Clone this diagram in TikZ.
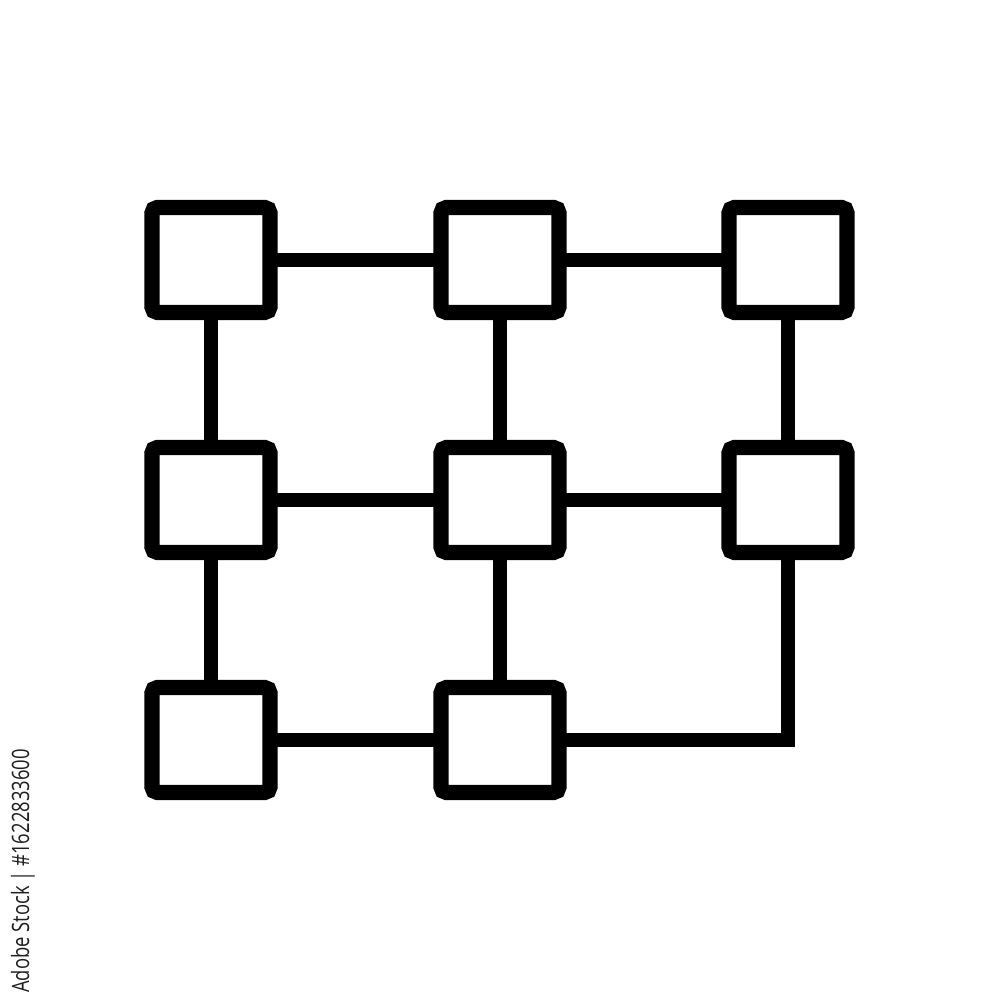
\documentclass[tikz,border=0pt]{standalone}
\usepackage{fontspec}
\usepackage{tikz,tkz-graph}
\newfontfamily\stampfont{Open Sans}
\tikzstyle{gridBox}=[shape = rectangle, minimum width = 1.18cm, minimum height = 1.05cm, inner sep = 0pt, line width = 4.3pt, rounded corners = 1.5pt, draw, fill = white]
\tikzstyle{gridLink}=[draw, line width = 3.9pt, black]

\begin{document}
\begin{tikzpicture}[scale = 10]
\useasboundingbox (0,0) rectangle (1,1);
\tikzstyle{VertexStyle} = []
\tikzstyle{EdgeStyle} = [gridLink]
\Vertex[style = gridBox, x = 0.211, y = 0.740, NoLabel]{b1}
\Vertex[style = gridBox, x = 0.500, y = 0.740, NoLabel]{b2}
\Vertex[style = gridBox, x = 0.788, y = 0.740, NoLabel]{b3}
\Vertex[style = gridBox, x = 0.211, y = 0.500, NoLabel]{b4}
\Vertex[style = gridBox, x = 0.500, y = 0.500, NoLabel]{b5}
\Vertex[style = gridBox, x = 0.788, y = 0.500, NoLabel]{b6}
\Vertex[style = gridBox, x = 0.211, y = 0.260, NoLabel]{b7}
\Vertex[style = gridBox, x = 0.500, y = 0.260, NoLabel]{b8}
\Edge(b1)(b2)
\Edge(b2)(b3)
\Edge(b1)(b4)
\Edge(b2)(b5)
\Edge(b3)(b6)
\Edge(b4)(b5)
\Edge(b5)(b6)
\Edge(b4)(b7)
\Edge(b5)(b8)
\Edge(b7)(b8)
\draw[gridLink] (b6) |- (b8);
\node[rotate = 90, xscale = 0.77, inner sep = 0pt, text = black!88, font = \stampfont\fontsize{6.8}{7}\selectfont] (stamp) at (0.023, 0.129) {Adobe Stock | \#1622833600};
\end{tikzpicture}
\end{document}
